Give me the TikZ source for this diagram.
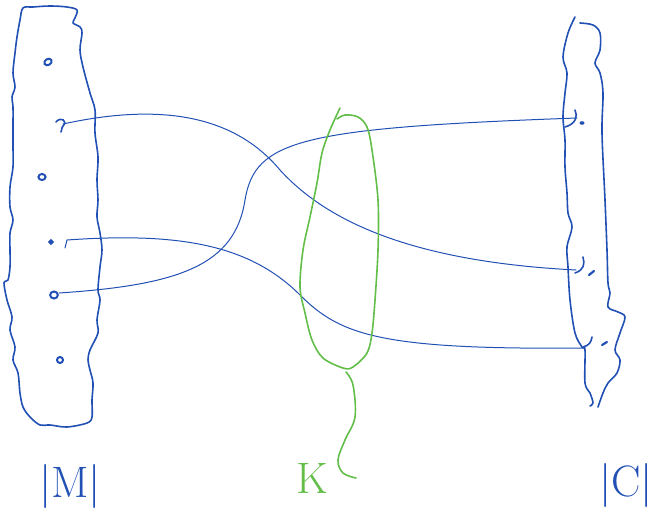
\documentclass[tikz,border=0pt]{standalone}
\usepackage{tikz}
\definecolor{ink}{HTML}{2150B4}
\definecolor{marker}{HTML}{62BE48}
\tikzset{
  outline/.style={draw=ink, line width=1.6pt, line cap=round, line join=round},
  conn/.style={draw=ink, line width=1.0pt, line cap=round},
  elem/.style={draw=ink, line width=2pt, ellipse-ish},
  ellipse-ish/.style={circle, inner sep=0pt, minimum size=6pt},
  hook/.style={draw=ink, line width=1.6pt, line cap=round},
  greenline/.style={draw=marker, line width=1.6pt, line cap=round, line join=round},
  lbl/.style={inner sep=0pt, font=\fontsize{44}{44}\selectfont}
}
\begin{document}
\begin{tikzpicture}[x=1pt, y=-1pt]
\useasboundingbox (0,0) rectangle (656,516);

% set M
\draw[outline] plot[smooth cycle, tension=0.55] coordinates {
 (23,8) (33,7) (50,6) (67,7) (77,10) (75,18) (73,23) (80,27) (82,33) (80,50)
 (83,67) (90,93) (95,110) (95,133) (98,157) (97,180) (98,200) (97,217) (100,233)
 (102,250) (100,267) (98,290) (100,300) (97,320) (98,333) (90,350) (88,360)
 (90,370) (93,383) (92,400) (92,417) (87,423) (67,427) (50,425) (40,425)
 (30,417) (23,407) (20,393) (18,373) (13,360) (15,347) (10,330) (12,317)
 (7,300) (4,283) (8,280) (10,267) (10,250) (10,233) (13,220) (10,207) (10,187)
 (13,167) (13,147) (13,127) (13,107) (12,97) (15,87) (13,73) (15,53) (17,37) (20,20)};

% elements of M
\node[elem, ellipse-ish, minimum size=6pt, rotate=30, xscale=1.3] (m1) at (48,62) {};
\node[inner sep=0pt] (m2) at (60,125) {};
\draw[hook] (56,122) .. controls (61,116) and (68,121) .. (63,126) .. controls (61,129) and (62,131) .. (61,132);
\node[elem, minimum size=6pt, xscale=1.2] (m3) at (42,177) {};
\node[elem, minimum size=3.5pt] (m4) at (51,242) {};
\node[elem, minimum size=7pt, xscale=1.1] (m5) at (54,295) {};
\node[elem, minimum size=6pt] (m6) at (60,360) {};
\coordinate (s1) at (63,124);
\coordinate (s2) at (65,248);
\coordinate (s3) at (59,293);

% set C
\draw[outline] plot[smooth, tension=0.55] coordinates {
 (575,17) (568,33) (563,57) (567,73) (565,93) (563,117) (565,140) (565,167)
 (567,193) (568,213) (572,227) (567,247) (568,267) (570,300) (575,333)
 (582,347) (585,350) (585,383) (590,393) (593,403) (590,406)};
\draw[outline] plot[smooth, tension=0.55] coordinates {
 (580,23) (593,25) (600,33) (600,50) (595,63) (600,73) (603,93) (602,133)
 (605,200) (607,250) (608,283) (610,293) (608,307) (618,312) (625,317)
 (620,333) (615,350) (620,360) (617,373) (608,383) (603,393) (598,407)};

% elements of C
\coordinate (c1) at (577,118);
\coordinate (c2) at (576,270);
\coordinate (c3) at (585,348);
\draw[hook] (575,110) .. controls (578,116) and (576,124) .. (565,127);
\fill[ink] (582,123) ellipse (2.5pt and 1.8pt);
\draw[hook] (583,257) .. controls (585,264) and (584,270) .. (575,273);
\draw[hook, line width=2.2pt] (589,275) -- (594,271);
\draw[hook] (592,337) .. controls (591,342) and (590,345) .. (583,347);
\draw[hook, line width=2.2pt] (602,345) -- (607,342);

% the map
\draw[conn] (s1) .. controls (150,105) and (230,110) .. (280,170)
                 .. controls (330,225) and (420,262) .. (c2);
\draw[conn] (s3) .. controls (180,285) and (235,265) .. (245,200)
                 .. controls (255,140) and (300,128) .. (c1);
\draw[conn] (s2) -- (67,240) .. controls (180,232) and (250,245) .. (300,295)
                 .. controls (340,335) and (380,350) .. (c3);

% key space K
\draw[greenline] plot[smooth, tension=0.55] coordinates {
 (340,108) (330,130) (322,153) (317,183) (310,217) (303,250) (300,287)
 (305,313) (312,340) (323,358) (343,368) (353,367) (367,353) (372,333)
 (375,300) (378,250) (378,200) (372,150) (367,127) (358,117) (345,115) (337,119)};
\draw[greenline] plot[smooth, tension=0.6] coordinates {
 (346,372) (353,385) (355,417) (345,440) (338,460) (343,473) (356,478)};

% labels
\node[lbl, text=ink] (lm) at (70,486) {|M|};
\node[lbl, text=marker] (lk) at (312,478) {K};
\node[lbl, text=ink] (lc) at (626,485) {|C|};
\end{tikzpicture}
\end{document}
